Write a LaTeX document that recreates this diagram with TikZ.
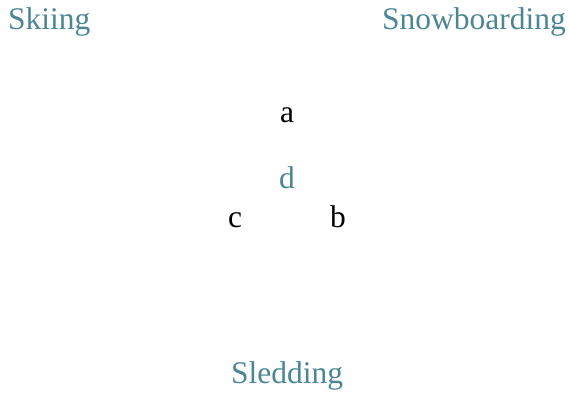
\documentclass[tikz,border=0pt]{standalone}
\usepackage{fontspec}
\setmainfont{Liberation Serif}
\definecolor{teal1}{RGB}{76,134,148}
\begin{document}
\begin{tikzpicture}[x=1pt,y=-1pt,
  lbl/.style={inner sep=0pt,font=\fontsize{31.5}{36}\selectfont},
  tl/.style={lbl,text=teal1}]
\useasboundingbox (0,0) rectangle (569,392);
\node[tl,anchor=base west] (ski) at (8,29) {Skiing};
\node[tl,anchor=base east] (snow) at (566,29) {Snowboarding};
\node[lbl,anchor=base] (a) at (287,122) {a};
\node[tl,anchor=base] (d) at (287,188) {d};
\node[lbl,anchor=base] (c) at (235,227) {c};
\node[lbl,anchor=base] (b) at (338,227) {b};
\node[tl,anchor=base] (sled) at (287,383) {Sledding};
\end{tikzpicture}
\end{document}
